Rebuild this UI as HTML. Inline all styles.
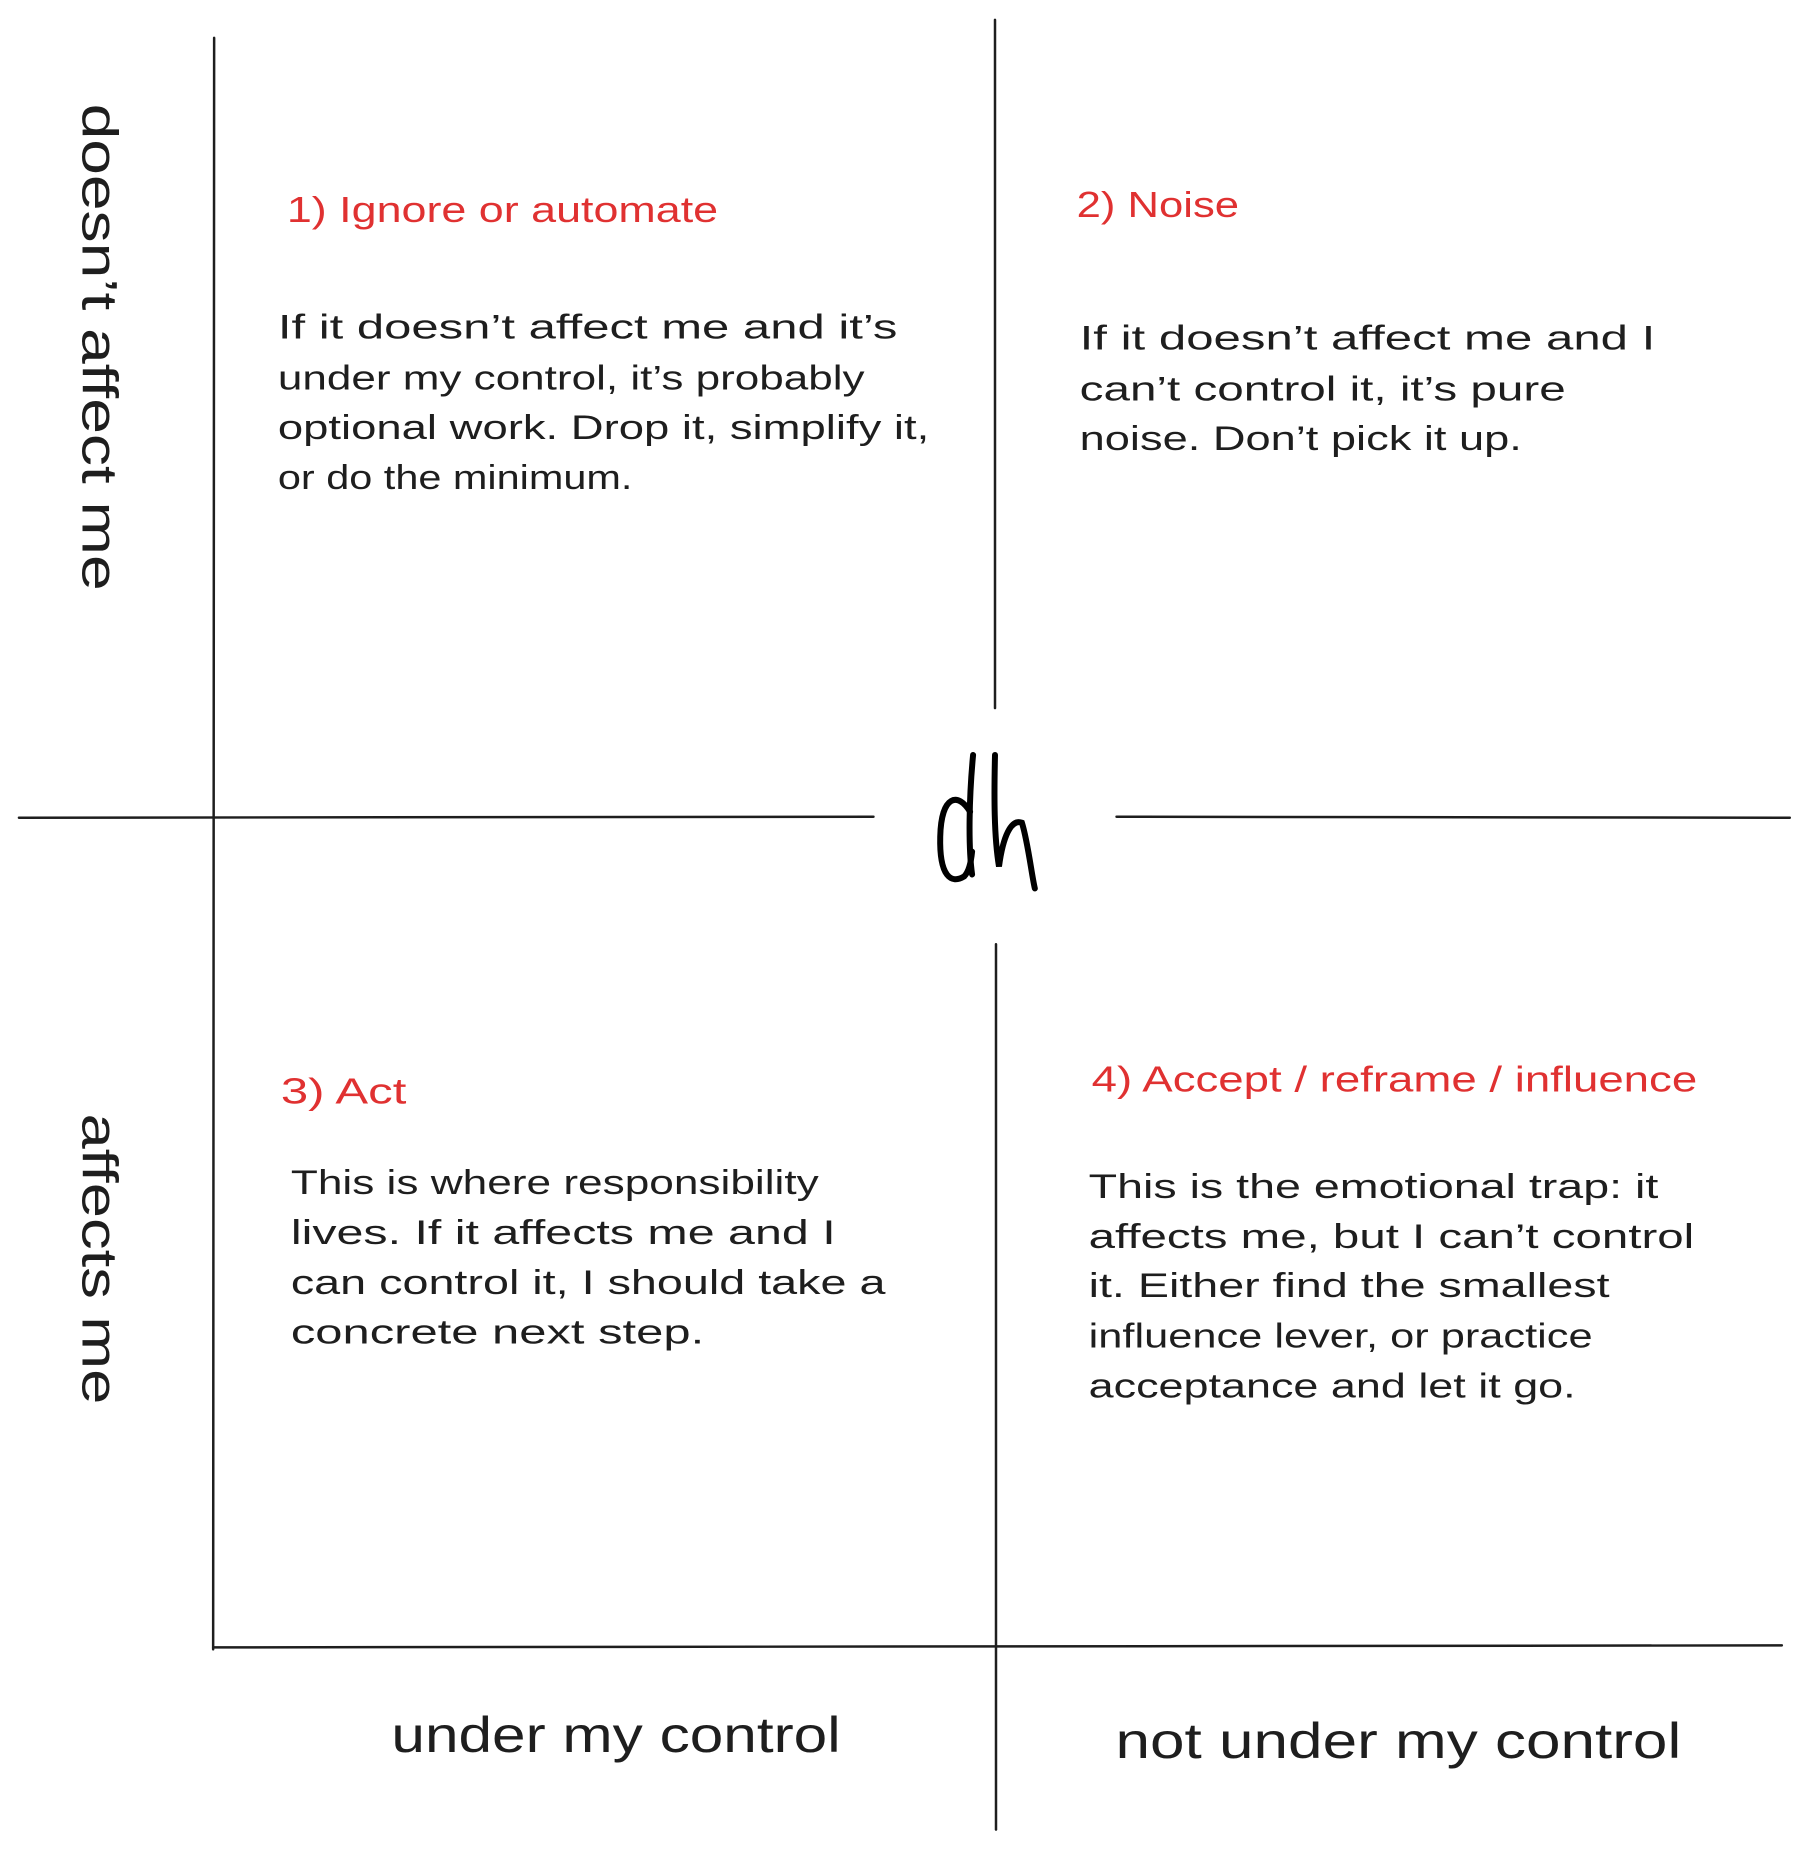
<!DOCTYPE html>
<html><head><meta charset="utf-8"><style>html,body{margin:0;padding:0;background:#fff}svg{display:block}</style></head>
<body>
<svg width="1809" height="1852" viewBox="0 0 1809 1852" xmlns="http://www.w3.org/2000/svg">
<g transform="scale(0.996)">
<g stroke="#1e1e1e" stroke-width="2.5" fill="none" stroke-linecap="round">
<path d="M215 38 L214 1656"/>
<path d="M19 821 L877 820"/>
<path d="M1121 820 L1797 821"/>
<path d="M999 20 L999 711"/>
<path d="M1000 948 L1000 1837"/>
<path d="M214 1654 L1789 1652"/>
</g>
<g stroke="#000" stroke-width="6" fill="none" stroke-linecap="round">
<path d="M977 758 C973 800 972 850 976 878"/>
<path d="M974 815 C962 795 945 798 944 840 C943 880 955 888 968 880 C973 875 975 865 976 855"/>
<path d="M999 758 C998 800 998 840 1003 870 C1007 840 1015 822 1026 826 C1032 845 1036 880 1039 892"/>
</g>
<g font-family="Liberation Sans, sans-serif" fill="#e03131" font-size="36">
<text x="288" y="223" textLength="433" lengthAdjust="spacingAndGlyphs">1) Ignore or automate</text>
<text x="1081" y="218" textLength="163" lengthAdjust="spacingAndGlyphs">2) Noise</text>
<text x="282" y="1108" textLength="126" lengthAdjust="spacingAndGlyphs">3) Act</text>
<text x="1096" y="1096" textLength="608" lengthAdjust="spacingAndGlyphs">4) Accept / reframe / influence</text>
</g>
<g font-family="Liberation Sans, sans-serif" fill="#1e1e1e" font-size="34">
<text x="279" y="340" textLength="622" lengthAdjust="spacingAndGlyphs">If it doesn’t affect me and it’s</text>
<text x="279" y="391" textLength="589" lengthAdjust="spacingAndGlyphs">under my control, it’s probably</text>
<text x="279" y="441" textLength="654" lengthAdjust="spacingAndGlyphs">optional work. Drop it, simplify it,</text>
<text x="279" y="491" textLength="356" lengthAdjust="spacingAndGlyphs">or do the minimum.</text>
<text x="1084" y="351" textLength="578" lengthAdjust="spacingAndGlyphs">If it doesn’t affect me and I</text>
<text x="1084" y="402" textLength="488" lengthAdjust="spacingAndGlyphs">can’t control it, it’s pure</text>
<text x="1084" y="452" textLength="444" lengthAdjust="spacingAndGlyphs">noise. Don’t pick it up.</text>
<text x="292" y="1199" textLength="530" lengthAdjust="spacingAndGlyphs">This is where responsibility</text>
<text x="292" y="1249" textLength="547" lengthAdjust="spacingAndGlyphs">lives. If it affects me and I</text>
<text x="292" y="1299" textLength="597" lengthAdjust="spacingAndGlyphs">can control it, I should take a</text>
<text x="292" y="1349" textLength="415" lengthAdjust="spacingAndGlyphs">concrete next step.</text>
<text x="1093" y="1203" textLength="572" lengthAdjust="spacingAndGlyphs">This is the emotional trap: it</text>
<text x="1093" y="1253" textLength="608" lengthAdjust="spacingAndGlyphs">affects me, but I can’t control</text>
<text x="1093" y="1302" textLength="523" lengthAdjust="spacingAndGlyphs">it. Either find the smallest</text>
<text x="1093" y="1353" textLength="506" lengthAdjust="spacingAndGlyphs">influence lever, or practice</text>
<text x="1093" y="1403" textLength="489" lengthAdjust="spacingAndGlyphs">acceptance and let it go.</text>
</g>
<g font-family="Liberation Sans, sans-serif" fill="#1e1e1e" font-size="50">
<text x="393" y="1759" textLength="451" lengthAdjust="spacingAndGlyphs">under my control</text>
<text x="1120" y="1765" textLength="568" lengthAdjust="spacingAndGlyphs">not under my control</text>
<text transform="translate(83 104) rotate(90)" x="0" y="0" textLength="489" lengthAdjust="spacingAndGlyphs">doesn’t affect me</text>
<text transform="translate(83 1118) rotate(90)" x="0" y="0" textLength="292" lengthAdjust="spacingAndGlyphs">affects me</text>
</g>
</g>
</svg>
</body></html>
